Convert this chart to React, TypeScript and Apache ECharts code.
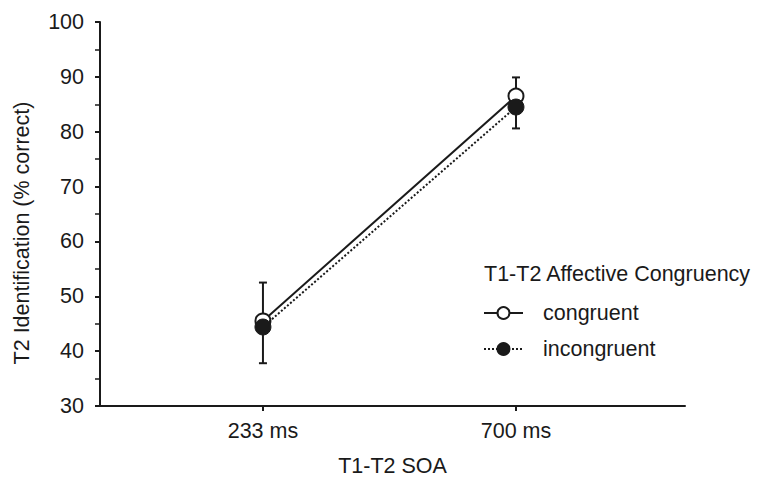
import React, { useEffect, useRef } from "react";
import * as echarts from "echarts";

const categories = ["233 ms", "700 ms"];
const categoryPos = [0, 1];
const congruentMean = [45.5, 86.5];
const congruentErrUp = [7.0, 3.4];
const incongruentMean = [44.4, 84.5];
const incongruentErrDown = [6.6, 3.9];
const yTicks = [30, 40, 50, 60, 70, 80, 90, 100];

const FONT = "Liberation Sans, Arial, sans-serif";
const FS = 21.5;
const INK = "#1a1a1a";

export default function App() {
  const ref = useRef<HTMLDivElement>(null);
  useEffect(() => {
    if (!ref.current) return;
    const chart = echarts.init(ref.current, null, { renderer: "svg" });

    const errorSeries = (name: string, data: number[][]) => ({
      type: "custom",
      name: name + "-err",
      z: 1,
      silent: true,
      renderItem: (params: any, api: any) => {
        const x = api.value(0);
        const lo = api.coord([x, api.value(1)]);
        const hi = api.coord([x, api.value(2)]);
        const cap = 4;
        const st = { stroke: INK, lineWidth: 2 };
        return {
          type: "group",
          children: [
            { type: "line", shape: { x1: lo[0], y1: lo[1], x2: hi[0], y2: hi[1] }, style: st },
            { type: "line", shape: { x1: hi[0] - cap, y1: hi[1], x2: hi[0] + cap, y2: hi[1] }, style: st },
          ],
        };
      },
      data,
    });

    chart.setOption({
      animation: false,
      grid: { left: 100, right: 74, top: 22, bottom: 71, outerBoundsMode: "none", containLabel: false },
      xAxis: {
        type: "value",
        min: -0.644,
        max: 1.668,
        axisLine: { show: true, onZero: false, lineStyle: { color: INK, width: 2 } },
        axisTick: { show: true, customValues: categoryPos, length: 5, lineStyle: { color: INK, width: 2 } },
        axisLabel: {
          customValues: categoryPos,
          formatter: (v: number) => categories[Math.round(v)] ?? "",
          color: INK,
          fontSize: FS,
          fontFamily: FONT,
          margin: 14,
        },
        splitLine: { show: false },
        name: "T1-T2 SOA",
        nameLocation: "middle",
        nameGap: 49,
        nameTextStyle: { color: INK, fontSize: FS, fontFamily: FONT },
      },
      yAxis: {
        type: "value",
        min: 30,
        max: 100,
        interval: 10,
        axisLine: { show: true, onZero: false, lineStyle: { color: INK, width: 2 } },
        axisTick: { show: true, length: 5, lineStyle: { color: INK, width: 2 } },
        minorTick: { show: true, splitNumber: 2, length: 5, lineStyle: { color: INK, width: 1.5 } },
        axisLabel: {
          color: INK,
          fontSize: FS,
          fontFamily: FONT,
          margin: 16,
          formatter: (v: number) => (yTicks.includes(v) ? String(v) : ""),
        },
        splitLine: { show: false },
      },
      legend: {
        orient: "vertical",
        left: 483,
        top: 302,
        padding: 0,
        itemWidth: 39,
        itemHeight: 15,
        itemGap: 14,
        data: ["congruent", "incongruent"],
        textStyle: { color: INK, fontSize: FS, fontFamily: FONT, lineHeight: 22, padding: [0, 0, 0, 15] },
      },
      graphic: [
        {
          type: "text",
          x: 484,
          y: 274,
          style: {
            text: "T1-T2 Affective Congruency",
            fill: INK,
            fontSize: FS,
            fontFamily: FONT,
            textAlign: "left",
            textVerticalAlign: "middle",
          },
        },
        {
          type: "text",
          x: 22,
          y: 233,
          rotation: Math.PI / 2,
          style: {
            text: "T2 Identification (% correct)",
            fill: INK,
            fontSize: FS,
            fontFamily: FONT,
            textAlign: "center",
            textVerticalAlign: "middle",
          },
        },
      ],
      series: [
        errorSeries(
          "congruent",
          congruentMean.map((m, i) => [categoryPos[i], m, m + congruentErrUp[i]])
        ),
        errorSeries(
          "incongruent",
          incongruentMean.map((m, i) => [categoryPos[i], m, m - incongruentErrDown[i]])
        ),
        {
          type: "line",
          name: "congruent",
          z: 3,
          data: congruentMean.map((m, i) => [categoryPos[i], m]),
          symbol: "circle",
          symbolSize: 15,
          showSymbol: true,
          lineStyle: { color: INK, width: 2, type: "solid" },
          itemStyle: { color: "#ffffff", borderColor: INK, borderWidth: 2 },
        },
        {
          type: "line",
          name: "incongruent",
          z: 4,
          data: incongruentMean.map((m, i) => [categoryPos[i], m]),
          symbol: "circle",
          symbolSize: 16,
          showSymbol: true,
          lineStyle: { color: INK, width: 2, type: "dotted" },
          itemStyle: { color: INK, borderColor: INK, borderWidth: 1 },
        },
      ],
    });
    return () => chart.dispose();
  }, []);
  return (
    <div
      ref={ref}
      style={{ position: "fixed", left: 0, top: 0, width: 759, height: 477, background: "#fff" }}
    />
  );
}
